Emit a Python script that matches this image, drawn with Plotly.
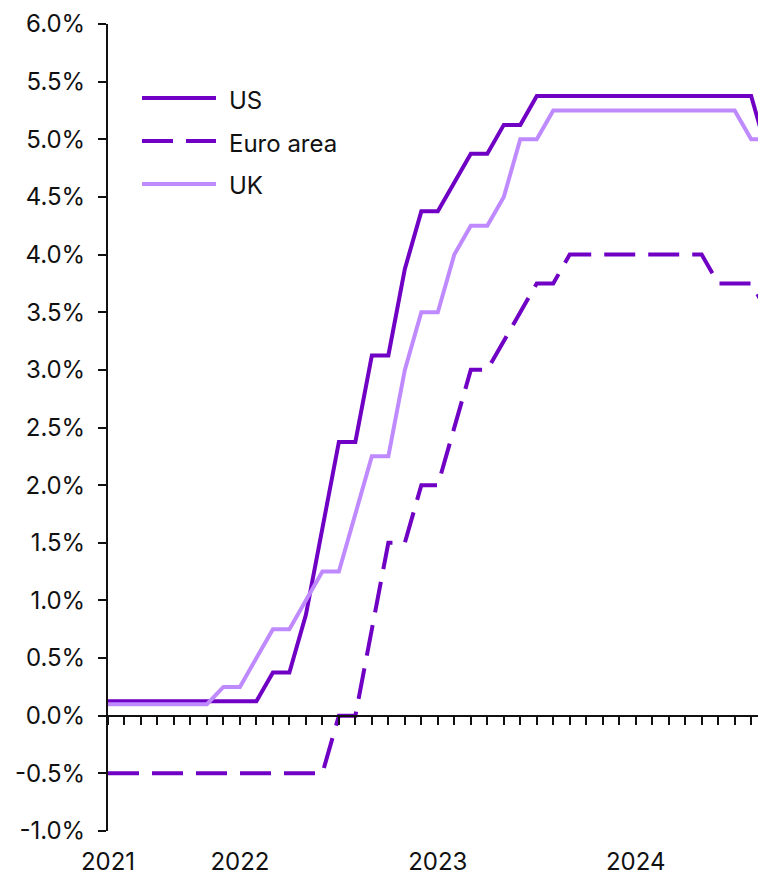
import plotly.graph_objects as go

months = ["2021-05", "2021-06", "2021-07", "2021-08", "2021-09", "2021-10", "2021-11", "2021-12",
          "2022-01", "2022-02", "2022-03", "2022-04", "2022-05", "2022-06", "2022-07", "2022-08",
          "2022-09", "2022-10", "2022-11", "2022-12", "2023-01", "2023-02", "2023-03", "2023-04",
          "2023-05", "2023-06", "2023-07", "2023-08", "2023-09", "2023-10", "2023-11", "2023-12",
          "2024-01", "2024-02", "2024-03", "2024-04", "2024-05", "2024-06", "2024-07", "2024-08",
          "2024-09"]

us = [0.125, 0.125, 0.125, 0.125, 0.125, 0.125, 0.125, 0.125,
      0.125, 0.125, 0.375, 0.375, 0.875, 1.625, 2.375, 2.375,
      3.125, 3.125, 3.875, 4.375, 4.375, 4.625, 4.875, 4.875,
      5.125, 5.125, 5.375, 5.375, 5.375, 5.375, 5.375, 5.375,
      5.375, 5.375, 5.375, 5.375, 5.375, 5.375, 5.375, 5.375,
      4.875]

euro = [-0.5, -0.5, -0.5, -0.5, -0.5, -0.5, -0.5, -0.5,
        -0.5, -0.5, -0.5, -0.5, -0.5, -0.5, 0.0, 0.0,
        0.75, 1.5, 1.5, 2.0, 2.0, 2.5, 3.0, 3.0,
        3.25, 3.5, 3.75, 3.75, 4.0, 4.0, 4.0, 4.0,
        4.0, 4.0, 4.0, 4.0, 4.0, 3.75, 3.75, 3.75,
        3.5]

uk = [0.1, 0.1, 0.1, 0.1, 0.1, 0.1, 0.1, 0.25,
      0.25, 0.5, 0.75, 0.75, 1.0, 1.25, 1.25, 1.75,
      2.25, 2.25, 3.0, 3.5, 3.5, 4.0, 4.25, 4.25,
      4.5, 5.0, 5.0, 5.25, 5.25, 5.25, 5.25, 5.25,
      5.25, 5.25, 5.25, 5.25, 5.25, 5.25, 5.25, 5.0,
      5.0]

series_names = ["US", "Euro area", "UK"]
year_tick_months = ["2021-05", "2022-01", "2023-01", "2024-01"]
year_tick_labels = ["2021", "2022", "2023", "2024"]
y_tick_vals = [-1.0, -0.5, 0.0, 0.5, 1.0, 1.5, 2.0, 2.5, 3.0, 3.5, 4.0, 4.5, 5.0, 5.5, 6.0]
y_tick_labels = ["-1.0%", "-0.5%", "0.0%", "0.5%", "1.0%", "1.5%", "2.0%", "2.5%", "3.0%",
                 "3.5%", "4.0%", "4.5%", "5.0%", "5.5%", "6.0%"]

DARK = "#7000C4"
LIGHT = "#C08AFF"
FONT = "Inter"
FS = 24
TXT = "#111111"

# page body has an 8px margin; figure sized/offset to compensate
OFF = 8
W, H = 758, 869
ML, MR, MT, MB = 100, 0, 16, 46
PW = W - ML - MR
PH = H - MT - MB

fig = go.Figure()
fig.add_trace(go.Scatter(x=months, y=us, name=series_names[0], mode="lines",
                         line=dict(color=DARK, width=4), showlegend=False))
fig.add_trace(go.Scatter(x=months, y=euro, name=series_names[1], mode="lines",
                         line=dict(color=DARK, width=4, dash="31px,13px"), showlegend=False))
fig.add_trace(go.Scatter(x=months, y=uk, name=series_names[2], mode="lines",
                         line=dict(color=LIGHT, width=4), showlegend=False))
# helper trace so the zero-line axis (x2) is drawn
fig.add_trace(go.Scatter(x=months[:1], y=[None], xaxis="x2", yaxis="y",
                         showlegend=False, hoverinfo="skip", mode="lines"))

ymin, ymax = y_tick_vals[0], y_tick_vals[-1]

fig.update_layout(
    width=W, height=H,
    margin=dict(l=ML, r=MR, t=MT, b=MB, autoexpand=False),
    paper_bgcolor="white", plot_bgcolor="white",
    font=dict(family=FONT, size=FS, color=TXT),
    xaxis=dict(type="category", categoryorder="array", categoryarray=months,
               range=[0, 39.9], showgrid=False, zeroline=False, showline=False, automargin=False,
               ticks="", tickmode="array", tickvals=year_tick_months, ticktext=year_tick_labels,
               ticklabelstandoff=14, tickfont=dict(family=FONT, size=FS, color=TXT)),
    xaxis2=dict(type="category", categoryorder="array", categoryarray=months,
                overlaying="x", matches="x", anchor="free", automargin=False,
                position=(0 - ymin) / (ymax - ymin),
                showgrid=False, zeroline=False, showline=True, linecolor=TXT, linewidth=2,
                ticks="outside", ticklen=8, tickwidth=2, tickcolor=TXT,
                tickmode="linear", tick0=0, dtick=1, showticklabels=False),
    yaxis=dict(range=[ymin, ymax], showgrid=False, zeroline=False, showline=True, automargin=False,
               linecolor=TXT, linewidth=2, ticks="outside", ticklen=8, tickwidth=2,
               tickcolor=TXT, tickmode="array", tickvals=y_tick_vals, ticktext=y_tick_labels,
               ticklabelstandoff=8, tickfont=dict(family=FONT, size=FS, color=TXT)),
    showlegend=False,
)

# custom legend (long line samples as in the reference); positions in screen px
def px_x(px):
    return (px - OFF - ML) / PW

def px_y(py):
    return (H - MB - (py - OFF)) / PH

legend_rows = [(series_names[0], 98, dict(color=DARK, width=4)),
               (series_names[1], 141, dict(color=DARK, width=4, dash="31px,13px")),
               (series_names[2], 184, dict(color=LIGHT, width=4))]
for name, py, ln in legend_rows:
    fig.add_shape(type="line", xref="paper", yref="paper",
                  x0=px_x(142), x1=px_x(216), y0=px_y(py), y1=px_y(py), line=ln)
    fig.add_annotation(xref="paper", yref="paper", x=px_x(227), y=px_y(py + 2),
                       text=name, showarrow=False, xanchor="left", yanchor="middle",
                       font=dict(family=FONT, size=FS, color=TXT))

fig.write_html("out.html")
